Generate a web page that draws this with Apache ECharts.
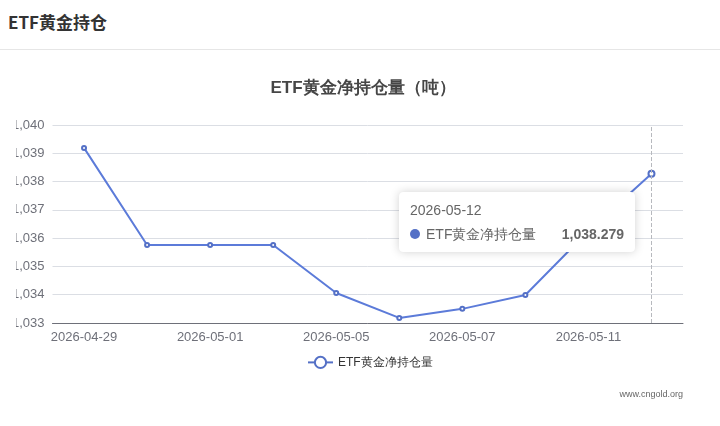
<!DOCTYPE html>
<html>
<head>
<meta charset="utf-8">
<script src="https://cdn.jsdelivr.net/npm/echarts@6/dist/echarts.min.js"></script>
<style>
body{margin:0;background:#fff;font-family:"Noto Sans CJK SC","Noto Sans",sans-serif;}
.hd{height:50px;border-bottom:1px solid #e6e6e6;box-sizing:border-box;}
.hd h3{margin:0;padding-left:8px;line-height:44px;font-size:17px;font-weight:bold;color:#333;}
#main{position:absolute;left:16px;top:51px;width:694px;height:375px;}
</style>
</head>
<body>
<div class="hd"><h3>ETF黄金持仓</h3></div>
<div id="main"></div>
<script>
var dates = ['2026-04-29','2026-04-30','2026-05-01','2026-05-04','2026-05-05','2026-05-06','2026-05-07','2026-05-08','2026-05-11','2026-05-12'];
var holdings = [1039.19, 1035.76, 1035.76, 1035.76, 1034.06, 1033.18, 1033.50, 1033.99, 1036.25, 1038.279];
var yTicks = [1033, 1040, 1];  // min, max, interval

var dom = document.getElementById("main");
var myChart = echarts.init(dom);

var option = {
    animation: false,
    color: ['#5470c6'],
    title: {
        text: 'ETF黄金净持仓量（吨）',
        left: 'center',
        top: 24,
        textStyle: {fontSize: 17, fontWeight: 'bold', color: '#464646'}
    },
    tooltip: {
        trigger: 'axis',
        alwaysShowContent: true,
        position: [383, 141],
        borderColor: '#fff',
        padding: [10, 10],
        textStyle: {fontSize: 14, color: '#666'},
        extraCssText: 'box-shadow:0 0 10px rgba(0,0,0,0.18);width:214px;'
    },
    legend: {
        left: 286,
        bottom: 52,
        data: ['ETF黄金净持仓量'],
        textStyle: {color: '#333', fontSize: 12}
    },
    grid: {left: 36.5, right: 27, top: 74, bottom: 103, outerBoundsMode: 'none'},
    xAxis: {
        type: 'category',
        data: dates,
        axisTick: {show: false},
        axisLine: {lineStyle: {color: '#6e7079'}},
        axisLabel: {interval: 1, color: '#6e7079', fontSize: 13}
    },
    yAxis: {
        type: 'value',
        min: yTicks[0],
        max: yTicks[1],
        interval: yTicks[2],
        axisLabel: {color: '#6e7079', fontSize: 13}
    },
    graphic: [{
        type: 'text',
        right: 27,
        bottom: 27,
        style: {text: 'www.cngold.org', fontSize: 9, fill: '#666'}
    }],
    series: [{
        name: 'ETF黄金净持仓量',
        type: 'line',
        symbol: 'emptyCircle',
        symbolSize: 4,
        data: holdings
    }]
};

if (option && typeof option === "object") {
    myChart.setOption(option, true);
    myChart.dispatchAction({type: 'showTip', seriesIndex: 0, dataIndex: 9});
}
</script>
</body>
</html>
